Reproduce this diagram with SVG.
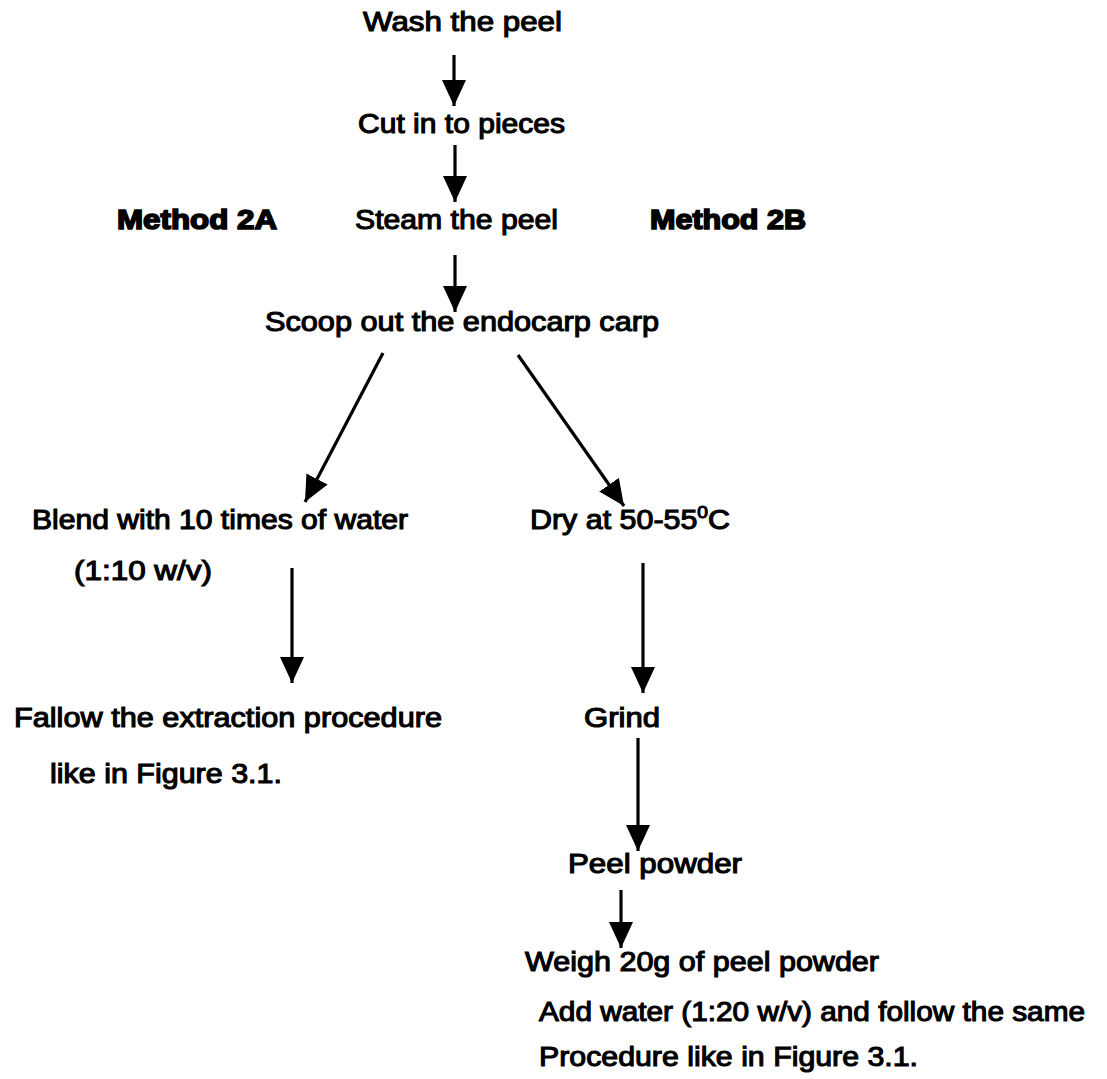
<svg xmlns="http://www.w3.org/2000/svg" width="1107" height="1079" viewBox="0 0 1107 1079">
<style>
text{font-family:"Liberation Sans",Arial,sans-serif;font-size:27px;fill:#000;stroke:#000;stroke-width:1.1px;}
text.m{font-weight:bold;stroke-width:1.6px;}
.c line{stroke:#000;stroke-width:3.2;marker-end:url(#ah);}
</style>
<defs>
<marker id="ah" markerUnits="userSpaceOnUse" markerWidth="28" markerHeight="24" refX="26" refY="12" orient="auto">
<path d="M0,0 L26,12 L0,24 z" fill="#000"/>
</marker>
</defs>
<rect width="1107" height="1079" fill="#fff"/>
<g id="n1"><text x="363" y="31" textLength="199" lengthAdjust="spacingAndGlyphs">Wash the peel</text></g>
<g id="n2"><text x="358" y="133" textLength="207" lengthAdjust="spacingAndGlyphs">Cut in to pieces</text></g>
<g id="m2a"><text class="m" x="117" y="229" textLength="160" lengthAdjust="spacingAndGlyphs">Method 2A</text></g>
<g id="n3"><text x="355" y="229" textLength="203" lengthAdjust="spacingAndGlyphs">Steam the peel</text></g>
<g id="m2b"><text class="m" x="650" y="229" textLength="156" lengthAdjust="spacingAndGlyphs">Method 2B</text></g>
<g id="n4"><text x="265" y="331" textLength="394" lengthAdjust="spacingAndGlyphs">Scoop out the endocarp carp</text></g>
<g id="n5"><text x="32" y="529" textLength="376" lengthAdjust="spacingAndGlyphs">Blend with 10 times of water</text>
<text x="74" y="580" textLength="138" lengthAdjust="spacingAndGlyphs">(1:10 w/v)</text></g>
<g id="n6"><text x="530" y="529" textLength="200" lengthAdjust="spacingAndGlyphs">Dry at 50-55<tspan dy="-11" font-size="17">0</tspan><tspan dy="11">C</tspan></text></g>
<g id="n7"><text x="14" y="727" textLength="428" lengthAdjust="spacingAndGlyphs">Fallow the extraction procedure</text>
<text x="50" y="783" textLength="232" lengthAdjust="spacingAndGlyphs">like in Figure 3.1.</text></g>
<g id="n8"><text x="584" y="727" textLength="76" lengthAdjust="spacingAndGlyphs">Grind</text></g>
<g id="n9"><text x="568" y="873" textLength="174" lengthAdjust="spacingAndGlyphs">Peel powder</text></g>
<g id="n10"><text x="525" y="971" textLength="354" lengthAdjust="spacingAndGlyphs">Weigh 20g of peel powder</text>
<text x="539" y="1021" textLength="546" lengthAdjust="spacingAndGlyphs">Add water (1:20 w/v) and follow the same</text>
<text x="539" y="1066" textLength="379" lengthAdjust="spacingAndGlyphs">Procedure like in Figure 3.1.</text></g>
<g id="connectors" class="c">
<line x1="454" y1="55" x2="454" y2="106"/>
<line x1="455" y1="145" x2="455" y2="202"/>
<line x1="455" y1="255" x2="455" y2="312"/>
<line x1="383" y1="353" x2="305" y2="502"/>
<line x1="518" y1="355" x2="624" y2="506"/>
<line x1="292" y1="568" x2="292" y2="683"/>
<line x1="643" y1="563" x2="643" y2="693"/>
<line x1="638" y1="738" x2="638" y2="851"/>
<line x1="621" y1="890" x2="621" y2="948"/>
</g>
</svg>
